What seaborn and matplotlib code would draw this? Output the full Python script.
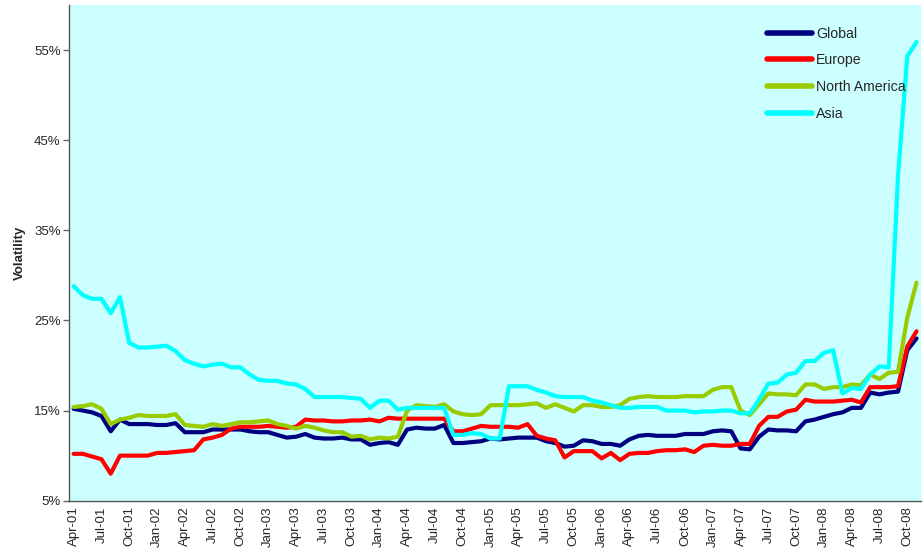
import numpy as np
import pandas as pd
import matplotlib
matplotlib.use("Agg")
import matplotlib.pyplot as plt
import seaborn as sns

# -----------------------------
# Data (monthly volatility, %)
# -----------------------------
months = pd.date_range("2001-04-01", periods=92, freq="MS")
month_labels = months.strftime("%b-%y")

global_vol = [
    15.2, 15.0, 14.8, 14.4, 12.7, 14.0, 13.5, 13.5, 13.5, 13.4, 13.4, 13.6,
    12.6, 12.6, 12.6, 12.9, 12.9, 12.9, 12.9, 12.7, 12.6, 12.6, 12.3, 12.0,
    12.1, 12.4, 12.0, 11.9, 11.9, 12.0, 11.8, 11.8, 11.2, 11.4, 11.5, 11.2,
    12.9, 13.1, 13.0, 13.0, 13.4, 11.4, 11.4, 11.5, 11.6, 11.9, 11.8, 11.9,
    12.0, 12.0, 12.0, 11.6, 11.4, 11.0, 11.1, 11.7, 11.6, 11.3, 11.3, 11.1,
    11.8, 12.2, 12.3, 12.2, 12.2, 12.2, 12.4, 12.4, 12.4, 12.7, 12.8, 12.7,
    10.8, 10.7, 12.1, 12.9, 12.8, 12.8, 12.7, 13.8, 14.0, 14.3, 14.6, 14.8,
    15.3, 15.3, 17.0, 16.8, 17.0, 17.1, 21.7, 23.0,
]
europe_vol = [
    10.2, 10.2, 9.9, 9.6, 8.0, 10.0, 10.0, 10.0, 10.0, 10.3, 10.3, 10.4,
    10.5, 10.6, 11.8, 12.0, 12.3, 13.0, 13.2, 13.2, 13.2, 13.3, 13.2, 13.1,
    13.2, 14.0, 13.9, 13.9, 13.8, 13.8, 13.9, 13.9, 14.0, 13.8, 14.2, 14.1,
    14.1, 14.1, 14.1, 14.1, 14.1, 12.7, 12.7, 13.0, 13.3, 13.2, 13.2, 13.2,
    13.1, 13.5, 12.2, 11.9, 11.7, 9.8, 10.5, 10.5, 10.5, 9.7, 10.3, 9.5,
    10.2, 10.3, 10.3, 10.5, 10.6, 10.6, 10.7, 10.4, 11.1, 11.2, 11.1, 11.1,
    11.3, 11.3, 13.3, 14.3, 14.3, 14.9, 15.1, 16.2, 16.0, 16.0, 16.0, 16.1,
    16.2, 15.9, 17.6, 17.6, 17.6, 17.7, 22.1, 23.8,
]
north_america_vol = [
    15.4, 15.5, 15.7, 15.2, 13.5, 14.0, 14.2, 14.5, 14.4, 14.4, 14.4, 14.6,
    13.4, 13.3, 13.2, 13.5, 13.3, 13.5, 13.7, 13.7, 13.8, 13.9, 13.5, 13.3,
    13.0, 13.3, 13.1, 12.8, 12.6, 12.6, 12.1, 12.2, 11.8, 12.0, 11.9, 12.1,
    15.0, 15.6, 15.5, 15.4, 15.7, 14.9, 14.6, 14.5, 14.6, 15.6, 15.6, 15.6,
    15.6, 15.7, 15.8, 15.3, 15.7, 15.3, 14.9, 15.6, 15.6, 15.4, 15.4, 15.6,
    16.3, 16.5, 16.6, 16.5, 16.5, 16.5, 16.6, 16.6, 16.6, 17.3, 17.6, 17.6,
    15.0, 14.5, 15.7, 16.9, 16.8, 16.8, 16.7, 17.9, 17.9, 17.4, 17.6, 17.6,
    17.9, 17.8, 19.0, 18.5, 19.2, 19.3, 25.3, 29.2,
]
asia_vol = [
    28.8, 27.8, 27.4, 27.4, 25.8, 27.6, 22.5, 22.0, 22.0, 22.1, 22.2, 21.6,
    20.6, 20.2, 19.9, 20.1, 20.2, 19.8, 19.8, 19.0, 18.4, 18.3, 18.3, 18.0,
    17.9, 17.4, 16.5, 16.5, 16.5, 16.5, 16.4, 16.3, 15.3, 16.1, 16.1, 15.1,
    15.3, 15.3, 15.3, 15.3, 15.3, 12.3, 12.3, 12.5, 12.4, 11.9, 11.9, 17.7,
    17.7, 17.7, 17.3, 17.0, 16.6, 16.5, 16.5, 16.5, 16.1, 15.9, 15.6, 15.3,
    15.3, 15.4, 15.4, 15.4, 15.0, 15.0, 15.0, 14.8, 14.9, 14.9, 15.0, 15.0,
    14.7, 14.7, 16.2, 18.0, 18.1, 19.0, 19.2, 20.5, 20.5, 21.4, 21.7, 16.9,
    17.5, 17.4, 19.0, 19.9, 19.8, 41.0, 54.3, 55.9,
]

regions = ["Global", "Europe", "North America", "Asia"]
colors = ["#000080", "#FF0000", "#99CC00", "#00FFFF"]
y_ticks = [5, 15, 25, 35, 45, 55]

series = dict(zip(regions, [global_vol, europe_vol, north_america_vol, asia_vol]))
df = pd.concat(
    [pd.DataFrame({"idx": np.arange(len(v)), "Volatility": v, "Region": k})
     for k, v in series.items()],
    ignore_index=True,
)

# -----------------------------
# Plot
# -----------------------------
sns.set_style("white")
plt.rcParams["font.family"] = ["Liberation Sans", "DejaVu Sans"]

fig = plt.figure(figsize=(9.23, 5.59), dpi=100)
ax = fig.add_axes([0.0748, 0.1043, 0.9232, 0.8867])
ax.set_facecolor("#CCFFFF")

sns.lineplot(data=df, x="idx", y="Volatility", hue="Region",
             hue_order=regions, palette=colors, linewidth=3,
             ax=ax, legend=True)

ax.set_xlim(-0.5, len(months) - 0.5)
ax.set_ylim(5, 60)
ax.set_yticks(y_ticks)
ax.set_yticklabels([f"{v}%" for v in y_ticks], fontsize=9.5)
tick_pos = np.arange(0, len(months), 3)
ax.set_xticks(tick_pos)
ax.set_xticklabels(month_labels[tick_pos], rotation=90, fontsize=9.5)
ax.tick_params(axis="x", length=0, pad=4)
ax.tick_params(axis="y", length=4, width=1, color="#666666", direction="out", left=True, pad=2)

ax.set_xlabel("")
ax.set_ylabel("Volatility", fontsize=9.5, fontweight="bold", labelpad=6)

for side in ["top", "right"]:
    ax.spines[side].set_visible(False)
for side in ["left", "bottom"]:
    ax.spines[side].set_color("#555555")
    ax.spines[side].set_linewidth(1.0)

leg = ax.legend(loc="upper right", bbox_to_anchor=(0.997, 0.982), frameon=False,
                fontsize=10.2, handlelength=3.2, handletextpad=0.3,
                labelspacing=0.9)
for line in leg.get_lines():
    line.set_linewidth(4)

fig.savefig("out.png", dpi=100)
